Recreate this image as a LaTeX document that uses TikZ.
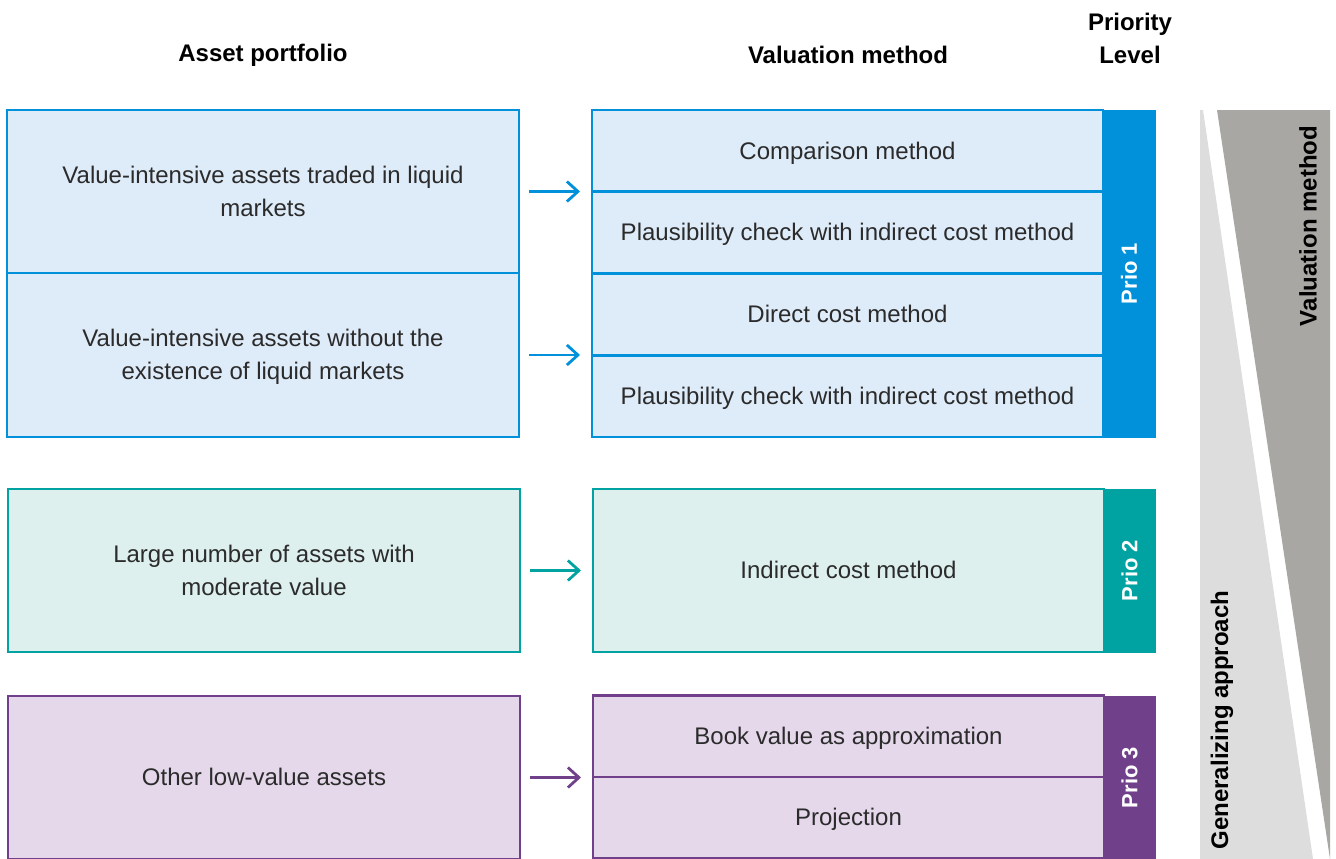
\documentclass[tikz,border=0pt]{standalone}
\usepackage{fontspec}
\setmainfont{Liberation Sans}
\usepackage{tikz}
\usetikzlibrary{positioning, arrows.meta}
\definecolor{kblue}{HTML}{0091DA}
\definecolor{kblueL}{HTML}{DEEBF8}
\definecolor{kteal}{HTML}{00A3A1}
\definecolor{ktealL}{HTML}{DDF0EE}
\definecolor{kpurple}{HTML}{71408A}
\definecolor{kpurpleL}{HTML}{E4D8EA}
\definecolor{kgrayD}{HTML}{A9A7A3}
\definecolor{kgrayL}{HTML}{DDDDDD}
\definecolor{ktext}{HTML}{2B2B2B}

\begin{document}
\begin{tikzpicture}[x=1pt, y=-1pt,
  txt/.style={font=\fontsize{24}{33}\selectfont, text=ktext, align=center, text depth=1pt},
  head/.style={font=\bfseries\fontsize{24}{33}\selectfont, align=center},
  box/.style 2 args={draw=#1, fill=#2, line width=2.8pt, inner sep=0pt, outer sep=0pt, txt},
  row/.style={minimum width=511pt, minimum height=81.75pt},
  bar/.style={fill=#1, inner sep=0pt, outer sep=0pt, minimum width=53pt},
  prio/.style={rotate=90, text=white, font=\bfseries\fontsize{22}{25}\selectfont},
  arr/.style={draw=#1, line width=2.8pt, -{Straight Barb[length=11pt, width=20pt]},
    shorten <=10pt, shorten >=12pt}]
\useasboundingbox (0,0) rectangle (1336,859);
% headings
\node[head] (hA) at (263,55) {Asset portfolio};
\node[head] (hV) at (848,55) {Valuation method};
\node[head] (hP) at (1130,38.5) {Priority\\Level};
% generalizing wedge
\fill[kgrayL] (1200,110) -- (1203,110) -- (1313,859) -- (1200,859) -- cycle;
\fill[kgrayD] (1217,110) -- (1330,110) -- (1330,859) -- cycle;
\node[head, rotate=90] (wV) at (1308,226) {Valuation method};
\node[head, rotate=90] (wG) at (1222,720) {Generalizing approach};
% prio 1
\node[box={kblue}{kblueL}, minimum width=512pt, minimum height=163pt] (a1) at (263,191.5)
  {Value-intensive assets traded in liquid\\markets};
\node[box={kblue}{kblueL}, minimum width=512pt, minimum height=164pt] (a2) at (263,355)
  {Value-intensive assets without the\\existence of liquid markets};
\node[box={kblue}{kblueL}, row] (m1) at (847.5,150.9) {Comparison method};
\node[box={kblue}{kblueL}, row] (m2) at (847.5,232.6) {Plausibility check with indirect cost method};
\node[box={kblue}{kblueL}, row] (m3) at (847.5,314.4) {Direct cost method};
\node[box={kblue}{kblueL}, row] (m4) at (847.5,396.1) {Plausibility check with indirect cost method};
\node[bar=kblue, minimum height=328pt] (p1) at (1129,273.5) {};
\node[prio] at (p1) {Prio 1};
\draw[arr=kblue] (a1) -- (a1 -| m1.west);
\draw[arr=kblue] (a2) -- (a2 -| m3.west);
% prio 2
\node[box={kteal}{ktealL}, minimum width=512pt, minimum height=163pt] (a3) at (264,570.5)
  {Large number of assets with\\moderate value};
\node[box={kteal}{ktealL}, minimum width=511pt, minimum height=163pt] (m5) at (848.5,570.5)
  {Indirect cost method};
\node[bar=kteal, minimum height=164pt] (p2) at (1129.5,570.5) {};
\node[prio] at (p2) {Prio 2};
\draw[arr=kteal] (a3) -- (a3 -| m5.west);
% prio 3
\node[box={kpurple}{kpurpleL}, minimum width=512pt, minimum height=163pt] (a4) at (264,777.5)
  {Other low-value assets};
\node[box={kpurple}{kpurpleL}, minimum width=511pt, minimum height=81.5pt] (m6) at (848.5,736.25)
  {Book value as approximation};
\node[box={kpurple}{kpurpleL}, minimum width=511pt, minimum height=81.5pt] (m7) at (848.5,817.75)
  {Projection};
\node[bar=kpurple, minimum height=164pt] (p3) at (1129.5,777.5) {};
\node[prio] at (p3) {Prio 3};
\draw[arr=kpurple] (a4) -- (a4 -| m6.west);
\end{tikzpicture}
\end{document}
